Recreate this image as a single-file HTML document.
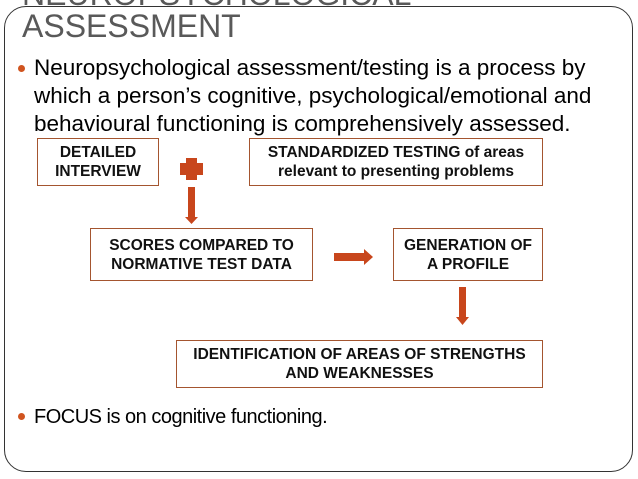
<!DOCTYPE html>
<html><head><meta charset="utf-8"><style>
body{margin:0;width:638px;height:479px;background:#fff;position:relative;overflow:hidden;font-family:"Liberation Sans",Arial,sans-serif}
.frame{position:absolute;left:4px;top:6px;width:627px;height:464px;border:1px solid #333;border-radius:22px}
.t{position:absolute;left:22px;color:#595959;font-size:32px;white-space:nowrap}
.b{position:absolute;left:34px;font-size:22.5px;color:#000;line-height:28px;white-space:nowrap}
.dot{position:absolute;left:18px;width:7px;height:7px;border-radius:50%;background:#d0541f}
.box{position:absolute;border:1px solid #a4552f;box-sizing:border-box;display:flex;align-items:center;justify-content:center;text-align:center;font-weight:bold;font-size:15.5px;line-height:19px;color:#111;white-space:nowrap}
.o{position:absolute;background:#c8461c}
</style></head><body>
<div class="frame"></div>
<div class="t" style="top:-24px">NEUROPSYCHOLOGICAL</div>
<div class="t" style="top:8px">ASSESSMENT</div>
<div class="dot" style="top:65px"></div>
<div class="b" style="top:54px">Neuropsychological assessment/testing is a process by<br>which a person’s cognitive, psychological/emotional and<br>behavioural functioning is comprehensively assessed.</div>
<div class="box" style="left:37px;top:138px;width:122px;height:48px">DETAILED<br>INTERVIEW</div>
<div class="box" style="left:249px;top:138px;width:294px;height:48px">STANDARDIZED TESTING of areas<br>relevant to presenting problems</div>
<div class="box" style="left:90px;top:228px;width:223px;height:53px">SCORES COMPARED TO<br>NORMATIVE TEST DATA</div>
<div class="box" style="left:393px;top:228px;width:150px;height:53px">GENERATION OF<br>A PROFILE</div>
<div class="box" style="left:176px;top:340px;width:367px;height:48px">IDENTIFICATION OF AREAS OF STRENGTHS<br>AND WEAKNESSES</div>
<div class="o" style="left:186px;top:158px;width:11px;height:22px"></div>
<div class="o" style="left:180px;top:163px;width:23px;height:12px"></div>
<div class="o" style="left:188px;top:187px;width:7px;height:31px"></div>
<svg style="position:absolute;left:0;top:0" width="638" height="479">
<polygon points="185,217 198,217 191.5,224" fill="#c8461c"/>
<rect x="334" y="253" width="30" height="8" fill="#c8461c"/>
<polygon points="364,249 373,257 364,265" fill="#c8461c"/>
<rect x="459" y="287" width="7" height="31" fill="#c8461c"/>
<polygon points="456,317 469,317 462.5,325" fill="#c8461c"/>
</svg>
<div class="dot" style="top:413px"></div>
<div class="b" style="top:403px;font-size:20px;letter-spacing:-0.5px">FOCUS is on cognitive functioning.</div>
</body></html>
